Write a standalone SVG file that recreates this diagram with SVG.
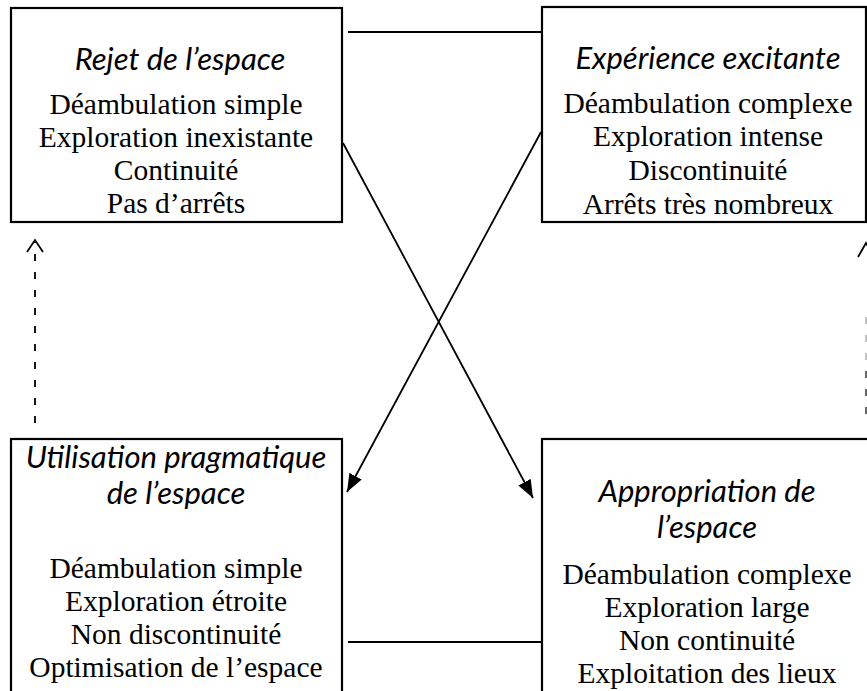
<svg xmlns="http://www.w3.org/2000/svg" width="867" height="691" viewBox="0 0 867 691">
<style>
.box{fill:#fff;stroke:#000;stroke-width:2.2}
.t{font-family:Lato,"Open Sans",sans-serif;font-style:italic;font-size:31px;text-anchor:middle;fill:#000}
.b{font-family:"Liberation Serif","Times New Roman",serif;font-size:29.5px;text-anchor:middle;fill:#000}
.ln{stroke:#000;stroke-width:1.8;fill:none}
.dash{stroke:#000;stroke-width:1.8;fill:none;stroke-dasharray:7 11}
</style>
<defs>
<marker id="ah" viewBox="0 0 18 14" refX="18" refY="7" markerWidth="18" markerHeight="14" markerUnits="userSpaceOnUse" orient="auto">
<path d="M0,0 L18,7 L0,14 Z" fill="#000"/>
</marker>
</defs>
<rect width="867" height="691" fill="#fff"/>
<g id="connectors">
<line class="ln" x1="348" y1="32" x2="542" y2="32"/>
<line class="ln" x1="348" y1="642" x2="542" y2="642"/>
<line class="ln" x1="343" y1="143" x2="533" y2="498" marker-end="url(#ah)"/>
<line class="ln" x1="541" y1="132" x2="347" y2="492" marker-end="url(#ah)"/>
<line class="dash" x1="35" y1="423" x2="35" y2="242"/>
<polyline class="ln" points="27,252 35,240 43,252"/>
<polyline class="ln" points="858,257 866,243 874,257"/>
<line x1="866" y1="317" x2="866" y2="370" stroke="#bbb" stroke-width="1.8" stroke-dasharray="7 11"/>
<line x1="866" y1="371" x2="866" y2="422" stroke="#555" stroke-width="1.8" stroke-dasharray="7 11"/>
</g>
<g id="rejet">
<rect class="box" x="11" y="8" width="331" height="214"/>
<text class="t" x="180" y="70">Rejet de l’espace</text>
<text class="b" x="176" y="114">Déambulation simple</text>
<text class="b" x="176" y="147">Exploration inexistante</text>
<text class="b" x="176" y="180">Continuité</text>
<text class="b" x="176" y="213">Pas d’arrêts</text>
</g>
<g id="experience">
<rect class="box" x="542" y="7" width="324" height="215"/>
<text class="t" x="708" y="69">Expérience excitante</text>
<text class="b" x="708" y="113">Déambulation complexe</text>
<text class="b" x="708" y="146">Exploration intense</text>
<text class="b" x="708" y="180">Discontinuité</text>
<text class="b" x="708" y="214">Arrêts très nombreux</text>
</g>
<g id="utilisation">
<rect class="box" x="11" y="439" width="331" height="270"/>
<text class="t" x="176" y="468">Utilisation pragmatique</text>
<text class="t" x="176" y="504">de l’espace</text>
<text class="b" x="176" y="578">Déambulation simple</text>
<text class="b" x="176" y="611">Exploration étroite</text>
<text class="b" x="176" y="644">Non discontinuité</text>
<text class="b" x="176" y="677">Optimisation de l’espace</text>
</g>
<g id="appropriation">
<rect class="box" x="542" y="439" width="340" height="270"/>
<text class="t" x="707" y="502">Appropriation de</text>
<text class="t" x="707" y="538">l’espace</text>
<text class="b" x="707" y="584">Déambulation complexe</text>
<text class="b" x="707" y="617">Exploration large</text>
<text class="b" x="707" y="650">Non continuité</text>
<text class="b" x="707" y="683">Exploitation des lieux</text>
</g>
</svg>
